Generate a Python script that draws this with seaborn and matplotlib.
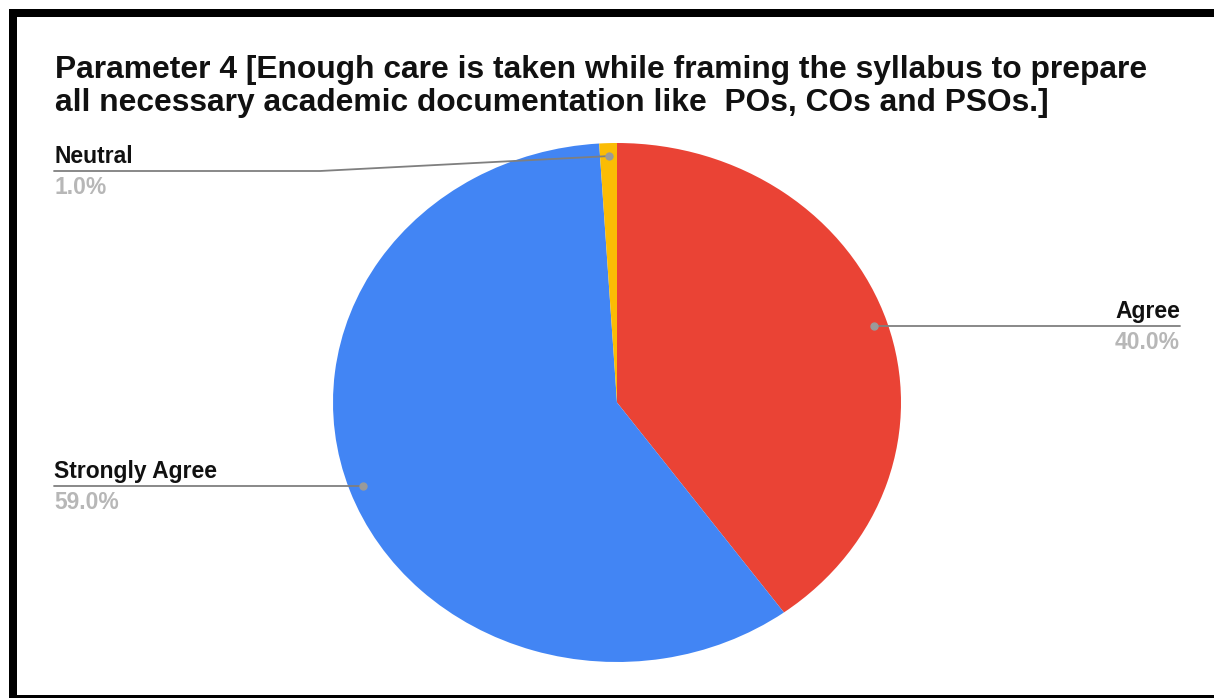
import seaborn as sns
import matplotlib.pyplot as plt
from matplotlib.patches import Rectangle
from matplotlib.lines import Line2D
import numpy as np

labels = ['Agree', 'Strongly Agree', 'Neutral']
shares = [40.0, 59.0, 1.0]
colors = ['#EA4335', '#4285F4', '#FBBC04']
title_lines = ['Parameter 4 [Enough care is taken while framing the syllabus to prepare',
               'all necessary academic documentation like  POs, COs and PSOs.]']

sns.set_theme(style='white')
plt.rcParams['font.family'] = ['Liberation Sans', 'DejaVu Sans']

W, H = 1214, 698
fig = plt.figure(figsize=(W / 100, H / 100), dpi=100)
fig.patch.set_facecolor('white')

# pie box in pixels (the original is stretched wider than tall)
px0, px1, py0, py1 = 333, 901, 143, 662
ax = fig.add_axes([px0 / W, 1 - py1 / H, (px1 - px0) / W, (py1 - py0) / H])
ax.pie(shares, colors=sns.color_palette(colors), startangle=90, counterclock=False,
       radius=1, wedgeprops=dict(linewidth=0))
ax.set_aspect('auto')
ax.set_xlim(-1, 1)
ax.set_ylim(-1, 1)
ax.axis('off')

# leader lines: (label x, line y, text anchor side, knee x) in pixels
label_pos = {
    'Agree': (1180, 326, 'right', None),
    'Strongly Agree': (54, 486, 'left', None),
    'Neutral': (54, 171, 'left', 320),
}

def to_fig(xp, yp):
    return xp / W, 1 - yp / H

cum = np.cumsum([0] + shares[:-1])
for lab, start, val in zip(labels, cum, shares):
    mid = np.deg2rad((start + val / 2) / 100 * 360)
    dx, dy = 0.95 * np.sin(mid), 0.95 * np.cos(mid)
    dot = fig.transFigure.inverted().transform(ax.transData.transform((dx, dy)))
    lx, ly, side, knee = label_pos[lab]
    fx, fy = to_fig(lx, ly)
    if knee is None:
        xs, ys = [fx, dot[0]], [fy, fy]
    else:
        kx, _ = to_fig(knee, ly)
        xs, ys = [fx, kx, dot[0]], [fy, fy, dot[1]]
    fig.add_artist(Line2D(xs, ys, transform=fig.transFigure, color='#7f7f7f', lw=1.3))
    fig.add_artist(Line2D([dot[0]], [dot[1]], transform=fig.transFigure, marker='o',
                          markersize=5, color='#9a9a9a', lw=0))
    fig.text(fx, fy + 8 / H, lab, ha=side, va='baseline', fontsize=16.5, fontweight='bold',
             color='#111111')
    fig.text(fx, fy - 23 / H, f'{val:.1f}%', ha=side, va='baseline', fontsize=16.5,
             fontweight='bold', color='#b7b7b7')

for i, line in enumerate(title_lines):
    fig.text(55 / W, 1 - (78 + 33 * i) / H, line, ha='left', va='baseline',
             fontsize=22.9, fontweight='bold', color='#111111')

# frame around the screenshot
fig.add_artist(Rectangle((9 / W, 1 - 17 / H), 1, 8 / H, transform=fig.transFigure,
                         color='black', lw=0))
fig.add_artist(Rectangle((9 / W, 0), 8 / W, 1 - 9 / H, transform=fig.transFigure,
                         color='black', lw=0))
fig.add_artist(Rectangle((9 / W, 0), 1, 3 / H, transform=fig.transFigure,
                         color='black', lw=0))

fig.savefig('out.png', dpi=100)
